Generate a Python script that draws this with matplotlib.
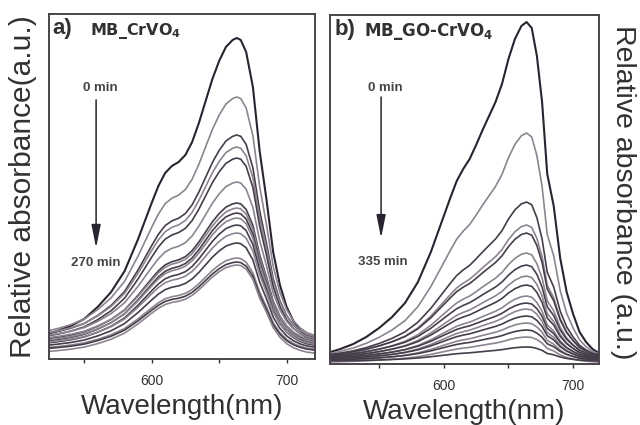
import matplotlib
matplotlib.use("Agg")
import matplotlib.pyplot as plt
import numpy as np

plt.rcParams['font.family'] = ['Liberation Sans', 'DejaVu Sans']

# 0 min spectrum of each run (relative absorbance, a.u.)
wl_a = [520, 530, 540, 550, 560, 570, 580, 590, 600, 605, 610, 615, 620, 625, 630, 635,
        640, 645, 650, 655, 660, 663, 666, 670, 675, 680, 685, 690, 695, 700, 705, 710, 715, 720, 725]
spec0_a = [24, 28, 33, 40, 52, 67, 88, 120, 156, 173, 186, 193, 197, 204, 217, 236,
           258, 280, 298, 312, 319, 321, 319, 307, 272, 208, 160, 107, 74, 52, 38, 29, 23, 20, 19]

wl_b = [510, 520, 530, 540, 550, 560, 570, 580, 590, 600, 605, 610, 615, 620, 625, 630, 635,
        640, 645, 650, 655, 660, 664, 668, 672, 676, 680, 685, 690, 695, 700, 705, 710, 715, 720]
spec0_b = [11, 15, 20, 27, 36, 47, 61, 82, 112, 148, 166, 183, 195, 205, 219, 234, 248,
           262, 280, 305, 325, 338, 342, 336, 308, 262, 190, 158, 106, 72, 50, 32, 22, 15, 11]

# peak height (664 nm) and baseline of every scan, 0 min first
peak_a = [321, 262, 224, 212, 201, 177, 156, 151, 146, 141, 134, 126, 116, 101, 97, 94]
base_a = [20, 24, 22, 23, 20, 21, 18, 19, 16, 17, 14, 15, 12, 10, 9, 6]

peak_b = [342, 231, 162, 139, 131, 111, 99, 88, 79, 68, 61, 55, 48, 41, 34, 27, 17]
base_b = [11, 10, 9, 8, 9, 7, 8, 6, 7, 5, 6, 4, 5, 3, 4, 2, 3]

tc = '#333033'
dark = '#463d4a'
light = '#8c8490'

fig = plt.figure(figsize=(6.4, 4.25), dpi=100)
ax1 = fig.add_axes([0.0766, 0.1553, 0.4156, 0.8118])
ax2 = fig.add_axes([0.5156, 0.1435, 0.4203, 0.8212])


def draw(ax, wl, spec0, peaks, bases):
    wl = np.array(wl)
    spec0 = np.array(spec0, dtype=float)
    shape = (spec0 - bases[0]) / (peaks[0] - bases[0])
    for i, (p, b) in enumerate(zip(peaks, bases)):
        y = b + (p - b) * shape
        if i == 0:
            ax.plot(wl, y, color='#2a2430', lw=1.5)
        else:
            ax.plot(wl, y, color=dark if i % 2 == 0 else light, lw=1.2)


draw(ax1, wl_a, spec0_a, peak_a, base_a)
draw(ax2, wl_b, spec0_b, peak_b, base_b)

ax1.set_xlim(524, 721)
ax1.set_ylim(0, 345)
ax2.set_xlim(512, 720)
ax2.set_ylim(0, 349)

for ax in (ax1, ax2):
    ax.set_yticks([])
    ax.set_xticks([600, 700])
    ax.set_xticks([550, 650], minor=True)
    ax.tick_params(axis='x', which='both', direction='out', length=3, width=1,
                   colors=tc, labelsize=10, pad=8)
    for s in ax.spines.values():
        s.set_color('#4a4448')
        s.set_linewidth(1.4)
    ax.set_xlabel('Wavelength(nm)', fontsize=20, color=tc, labelpad=4)

ax1.text(0.012, 0.958, 'a)', transform=ax1.transAxes, fontsize=16, fontweight='bold',
         color=tc, va='center')
ax1.text(0.155, 0.952, r'MB_CrVO$_\mathbf{4}$', transform=ax1.transAxes, fontsize=11.5,
         fontweight='bold', color=tc, va='center', family='DejaVu Sans')
ax2.text(0.018, 0.958, 'b)', transform=ax2.transAxes, fontsize=16, fontweight='bold',
         color=tc, va='center')
ax2.text(0.125, 0.952, r'MB_GO-CrVO$_\mathbf{4}$', transform=ax2.transAxes, fontsize=12,
         fontweight='bold', color=tc, va='center', family='DejaVu Sans')

# time arrows
arrow = dict(arrowstyle='-|>,head_length=0.7,head_width=0.14', color='#2a2430', lw=1.1,
             mutation_scale=20, shrinkA=0, shrinkB=0)
ax1.annotate('', xy=(0.177, 0.322), xytext=(0.177, 0.751), xycoords='axes fraction',
             arrowprops=arrow)
ax1.text(0.192, 0.786, '0 min', transform=ax1.transAxes, fontsize=9.5, fontweight='bold',
         color='#444', ha='center', va='center')
ax1.text(0.177, 0.278, '270 min', transform=ax1.transAxes, fontsize=9.5, fontweight='bold',
         color='#444', ha='center', va='center')

ax2.annotate('', xy=(0.190, 0.361), xytext=(0.190, 0.765), xycoords='axes fraction',
             arrowprops=arrow)
ax2.text(0.204, 0.791, '0 min', transform=ax2.transAxes, fontsize=9.5, fontweight='bold',
         color='#444', ha='center', va='center')
ax2.text(0.197, 0.292, '335 min', transform=ax2.transAxes, fontsize=9.5, fontweight='bold',
         color='#444', ha='center', va='center')

fig.text(0.036, 0.561, 'Relative absorbance(a.u.)', rotation=90, fontsize=21.5,
         color=tc, ha='center', va='center')
fig.text(0.974, 0.548, 'Relative absorbance (a.u.)', rotation=270, fontsize=20.5,
         color=tc, ha='center', va='center')

fig.savefig('out.png', dpi=100)
